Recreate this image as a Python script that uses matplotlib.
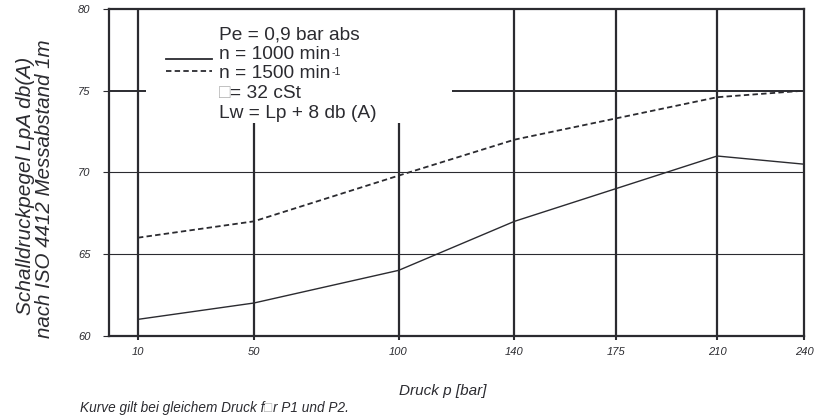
import matplotlib
matplotlib.use("Agg")
import matplotlib.pyplot as plt
from matplotlib.lines import Line2D

# ---- data ----
pressure = [10, 50, 100, 140, 175, 210, 240]
n1000 = [61.0, 62.0, 64.0, 67.0, 69.0, 71.0, 70.5]
n1500 = [66.0, 67.0, 69.8, 72.0, 73.3, 74.6, 75.0]
y_ticks = [60, 65, 70, 75, 80]
x_tick_labels = ["10", "50", "100", "140", "175", "210", "240"]

legend_lines = ["Pe = 0,9 bar abs", "n = 1000 min", "n = 1500 min", "= 32 cSt", "Lw = Lp + 8 db (A)"]
ylabel_lines = ["Schalldruckpegel LpA db(A)", "nach ISO 4412 Messabstand 1m"]
xlabel = "Druck p [bar]"
footnote_a = "Kurve gilt bei gleichem Druck f"
footnote_b = "r P1 und P2."

C = "#2b2b30"
FONT = ["Liberation Sans", "DejaVu Sans"]
plt.rcParams["font.family"] = FONT

fig = plt.figure(figsize=(8.28, 4.19), dpi=100)
ax = fig.add_axes([109/828, 1-335.7/419, 695/828, 326.7/419])
ax.set_xlim(0, 240)
ax.set_ylim(60, 80)

# grid
for xv in pressure[:-1]:
    top = 73 if xv in (50, 100) else 80
    ax.plot([xv, xv], [60, top], color=C, lw=1.6, solid_capstyle="butt", zorder=1)
for yv in (65, 70):
    ax.axhline(yv, color=C, lw=0.8, zorder=1)
ax.plot([0, 12.7], [75, 75], color=C, lw=1.4, solid_capstyle="butt", zorder=1)
ax.plot([118.3, 240], [75, 75], color=C, lw=1.4, solid_capstyle="butt", zorder=1)

# data
ax.plot(pressure, n1000, color=C, lw=1.0, zorder=3)
ax.plot(pressure, n1500, color=C, lw=1.3, dashes=(3, 1.8), zorder=3)

for s in ax.spines.values():
    s.set_color(C)
    s.set_linewidth(1.6)

ax.set_xticks(pressure)
ax.set_xticklabels(x_tick_labels)
ax.set_yticks(y_ticks)
ax.set_yticklabels([str(v) for v in y_ticks])
ax.tick_params(axis="x", direction="out", length=3, width=1.5, color=C, pad=5,
               labelsize=8, labelcolor=C)
ax.tick_params(axis="y", direction="out", length=4.3, width=0.8, color=C, pad=9,
               labelsize=8, labelcolor=C)
for lab in ax.get_xticklabels() + ax.get_yticklabels():
    lab.set_fontstyle("italic")

# legend block
tx = (219-109)/695
rows = [(335.7-b)/326.7 for b in (39, 59, 78.5, 98, 117.5)]
fs = 13.8
ax.text(tx, rows[0], legend_lines[0], transform=ax.transAxes, fontsize=fs, color=C, va="baseline")
for i in (1, 2):
    t = ax.text(tx, rows[i], legend_lines[i], transform=ax.transAxes, fontsize=fs, color=C, va="baseline")
    ax.annotate("-1", xy=(1, 1), xycoords=t, xytext=(0.6, -1.2), textcoords="offset points",
                fontsize=7.5, color=C, va="top", ha="left")
tb = ax.text(tx, rows[3], "\u25a1", transform=ax.transAxes, fontsize=fs, color="#b0b0b0", va="baseline")
ax.annotate(legend_lines[3], xy=(1, 0), xycoords=tb, fontsize=fs, color=C, va="bottom", ha="left")
ax.text(tx, rows[4], legend_lines[4], transform=ax.transAxes, fontsize=fs, color=C, va="baseline")

ax.add_line(Line2D([(166-109)/695, (212-109)/695], [(335.7-59)/326.7]*2, transform=ax.transAxes,
                   color=C, lw=1.3))
ax.add_line(Line2D([(166-109)/695, (212-109)/695], [(335.7-71)/326.7]*2, transform=ax.transAxes,
                   color=C, lw=1.3, dashes=(3, 1.8)))

# axis labels
fig.text(26/828, 1-186/419, ylabel_lines[0], rotation=90, fontsize=15, style="italic",
         color=C, ha="center", va="center")
fig.text(44.5/828, 1-189/419, ylabel_lines[1], rotation=90, fontsize=14.8, style="italic",
         color=C, ha="center", va="center")
fig.text(399/828, 1-395/419, xlabel, fontsize=11, style="italic", color=C, va="baseline")
fa = fig.text(80/828, 1-412/419, footnote_a, fontsize=9.8, style="italic", color=C, va="baseline")
box = ax.annotate("\u25a1", xy=(1, 0), xycoords=fa, fontsize=9.8, color="#b0b0b0",
                  va="bottom", ha="left", annotation_clip=False)
ax.annotate(footnote_b, xy=(1, 0), xycoords=box, fontsize=9.8, style="italic", color=C,
            va="bottom", ha="left", annotation_clip=False)

fig.savefig("out.png", dpi=100)
